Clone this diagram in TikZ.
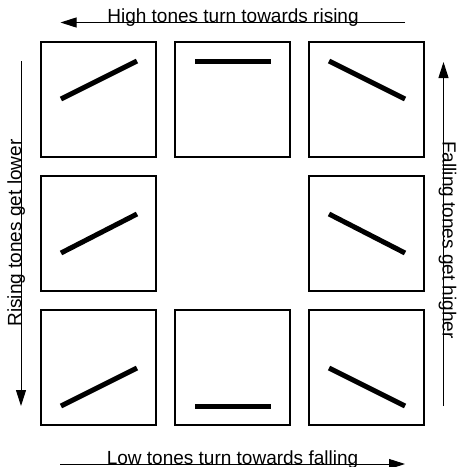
\documentclass[tikz,border=0pt]{standalone}
\usepackage{fontspec}
\setmainfont{Liberation Sans}
\usetikzlibrary{arrows.meta}
\begin{document}
\begin{tikzpicture}[x=1pt,y=-1pt,
  tonebox/.style={draw,line width=1.5pt,minimum width=115pt,minimum height=115pt,inner sep=0pt,outer sep=0pt},
  toneline/.style={line width=5pt},
  dirarrow/.style={line width=1pt,-{Triangle[length=16pt,width=10pt]}},
  lbl/.style={font=\fontsize{19}{19}\selectfont,inner sep=0pt}]
\useasboundingbox (0,0) rectangle (457,467);
% boxes
\node[tonebox] (b11) at (98.5,99.5) {};
\node[tonebox] (b12) at (232.5,99.5) {};
\node[tonebox] (b13) at (366.5,99.5) {};
\node[tonebox] (b21) at (98.5,233.5) {};
\node[tonebox] (b23) at (366.5,233.5) {};
\node[tonebox] (b31) at (98.5,367.5) {};
\node[tonebox] (b32) at (232.5,367.5) {};
\node[tonebox] (b33) at (366.5,367.5) {};
% tone contours (relative to box north-west corners)
\draw[toneline] ([shift={(20,57)}]b11.north west) -- ([shift={(96,19)}]b11.north west);
\draw[toneline] ([shift={(20,19)}]b12.north west) -- ([shift={(96,19)}]b12.north west);
\draw[toneline] ([shift={(20,19)}]b13.north west) -- ([shift={(96,57)}]b13.north west);
\draw[toneline] ([shift={(20,77)}]b21.north west) -- ([shift={(96,38)}]b21.north west);
\draw[toneline] ([shift={(20,38)}]b23.north west) -- ([shift={(96,77)}]b23.north west);
\draw[toneline] ([shift={(20,96)}]b31.north west) -- ([shift={(96,58)}]b31.north west);
\draw[toneline] ([shift={(20,96)}]b32.north west) -- ([shift={(96,96)}]b32.north west);
\draw[toneline] ([shift={(20,58)}]b33.north west) -- ([shift={(96,96)}]b33.north west);
% arrows
\coordinate (tS) at (405,22.5);
\coordinate (tE) at (60.5,22.5);
\coordinate (bS) at (60,464);
\coordinate (bE) at (405,464);
\coordinate (lS) at (21,61);
\coordinate (lE) at (21,406);
\coordinate (rS) at (443.5,406);
\coordinate (rE) at (443.5,62);
\draw[dirarrow] (tS) -- (tE);
\draw[dirarrow] (bS) -- (bE);
\draw[dirarrow] (lS) -- (lE);
\draw[dirarrow] (rS) -- (rE);
% labels
\node[lbl,anchor=base] (tl) at (233,22.5) {High tones turn towards rising};
\node[lbl,anchor=base] (bl) at (232.5,464) {Low tones turn towards falling};
\node[lbl,anchor=base,rotate=90] (ll) at (21,233) {Rising tones get lower};
\node[lbl,anchor=base,rotate=-90] (rl) at (442.5,240) {Falling tones get higher};
\end{tikzpicture}
\end{document}
